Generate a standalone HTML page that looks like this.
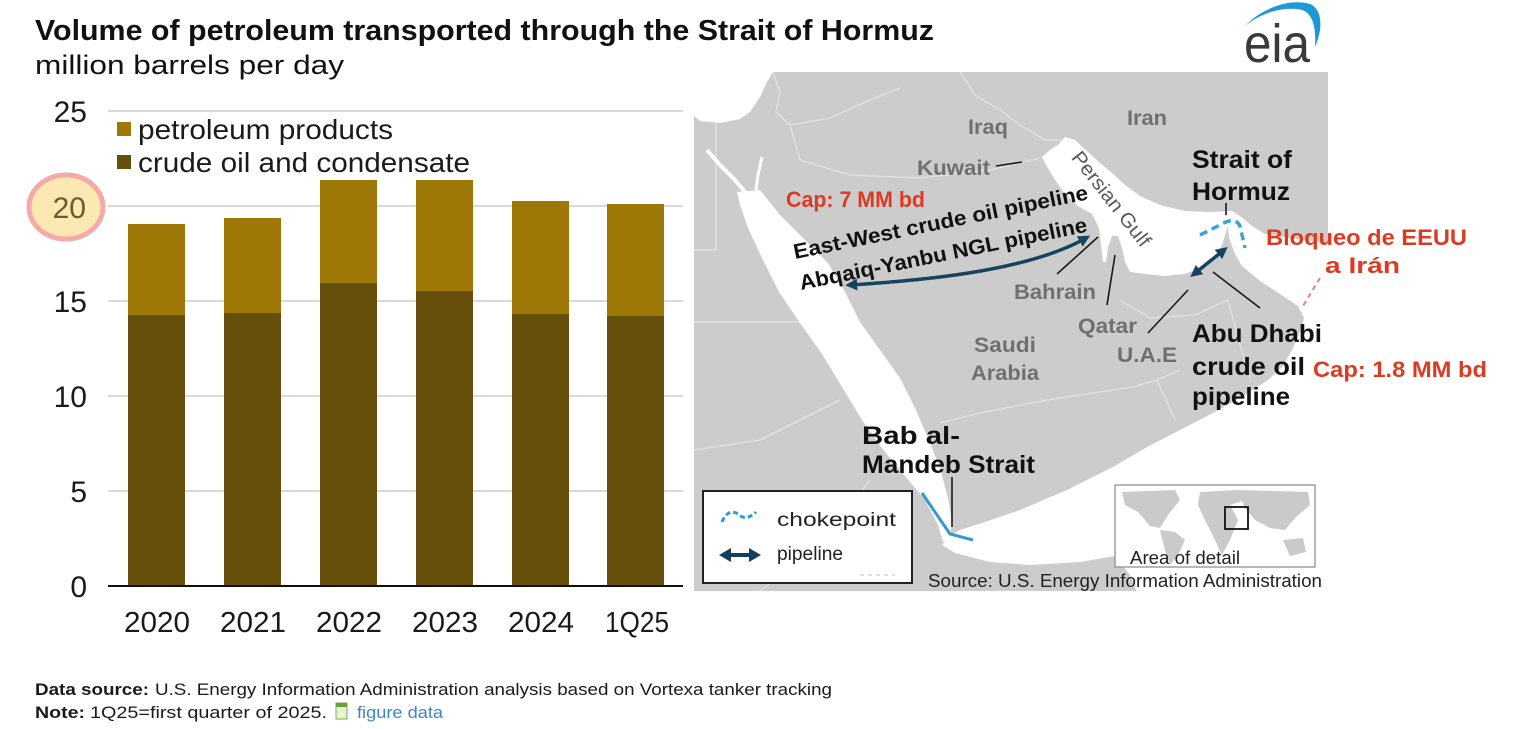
<!DOCTYPE html>
<html><head><meta charset="utf-8">
<style>
html,body{margin:0;padding:0;background:#fff;}
svg{display:block;}
text{font-family:"Liberation Sans",Arial,sans-serif;}
</style></head><body>
<svg width="1522" height="729" viewBox="0 0 1522 729" xmlns="http://www.w3.org/2000/svg">
<defs>
<marker id="ah" viewBox="0 0 10 10" refX="6" refY="5" markerWidth="3.4" markerHeight="3.4" orient="auto-start-reverse"><path d="M0,0 L10,5 L0,10 Z" fill="#17435f"/></marker>
</defs>
<rect width="1522" height="729" fill="#fff"/>

<!-- Title -->
<text x="35" y="40" font-size="29" font-weight="bold" fill="#111" textLength="899" lengthAdjust="spacingAndGlyphs">Volume of petroleum transported through the Strait of Hormuz</text>
<text x="35" y="74" font-size="27" fill="#111" textLength="309" lengthAdjust="spacingAndGlyphs">million barrels per day</text>

<!-- eia logo -->
<path d="M1245,26 C1262,8 1290,-2 1310,4 C1324,10 1322,32 1315,47 C1316,30 1314,14 1302,10 C1285,6 1262,12 1245,26 Z" fill="#1d9ad6"/>
<text x="1244" y="62" font-size="54" fill="#3a3a3a" textLength="66" lengthAdjust="spacingAndGlyphs">eia</text>

<!-- Chart gridlines -->
<g stroke="#dadada" stroke-width="2">
<line x1="108" y1="111" x2="683" y2="111"/>
<line x1="108" y1="206" x2="683" y2="206"/>
<line x1="108" y1="301" x2="683" y2="301"/>
<line x1="108" y1="396" x2="683" y2="396"/>
<line x1="108" y1="491" x2="683" y2="491"/>
</g>

<!-- Bars -->
<g>
<rect x="128" y="224" width="57" height="91" fill="#9d7806"/>
<rect x="128" y="315" width="57" height="271" fill="#664f0a"/>
<rect x="224" y="218" width="57" height="95" fill="#9d7806"/>
<rect x="224" y="313" width="57" height="273" fill="#664f0a"/>
<rect x="320" y="180" width="57" height="103" fill="#9d7806"/>
<rect x="320" y="283" width="57" height="303" fill="#664f0a"/>
<rect x="416" y="180" width="57" height="111" fill="#9d7806"/>
<rect x="416" y="291" width="57" height="295" fill="#664f0a"/>
<rect x="512" y="201" width="57" height="113" fill="#9d7806"/>
<rect x="512" y="314" width="57" height="272" fill="#664f0a"/>
<rect x="607" y="204" width="57" height="112" fill="#9d7806"/>
<rect x="607" y="316" width="57" height="270" fill="#664f0a"/>
</g>
<line x1="108" y1="586" x2="683" y2="586" stroke="#111" stroke-width="2"/>

<!-- Y labels -->
<ellipse cx="66" cy="207" rx="37" ry="32" fill="#fce8b3" stroke="#f4aaa6" stroke-width="5"/>
<g font-size="30" fill="#1a1a1a" text-anchor="end">
<text x="87" y="122">25</text>
<text x="86" y="218" fill="#6a5a2c">20</text>
<text x="87" y="312">15</text>
<text x="87" y="407">10</text>
<text x="87" y="502">5</text>
<text x="87" y="597">0</text>
</g>

<!-- X labels -->
<g font-size="29" fill="#1a1a1a" text-anchor="middle">
<text x="157" y="632" textLength="66" lengthAdjust="spacingAndGlyphs">2020</text>
<text x="253" y="632" textLength="66" lengthAdjust="spacingAndGlyphs">2021</text>
<text x="349" y="632" textLength="66" lengthAdjust="spacingAndGlyphs">2022</text>
<text x="445" y="632" textLength="66" lengthAdjust="spacingAndGlyphs">2023</text>
<text x="541" y="632" textLength="66" lengthAdjust="spacingAndGlyphs">2024</text>
<text x="637" y="632" textLength="64" lengthAdjust="spacingAndGlyphs">1Q25</text>
</g>

<!-- Legend -->
<rect x="117" y="122" width="14" height="14" fill="#9d7806"/>
<rect x="117" y="155" width="14" height="14" fill="#664f0a"/>
<text x="138" y="139" font-size="28" fill="#1a1a1a" textLength="255" lengthAdjust="spacingAndGlyphs">petroleum products</text>
<text x="138" y="172" font-size="28" fill="#1a1a1a" textLength="332" lengthAdjust="spacingAndGlyphs">crude oil and condensate</text>

<!-- MAP -->
<rect x="694" y="72" width="634" height="519" fill="#cccccc"/>
<!-- country borders -->
<g fill="none" stroke="#e2e2e2" stroke-width="1.3">
<polyline points="694,322 800,322"/>
<polyline points="716,123 716,250 694,250"/>
<polyline points="773,72 780,92 776,112 790,125 830,118 870,100 900,88"/>
<polyline points="790,125 800,160 850,175 920,178 990,170 1040,158"/>
<polyline points="960,72 975,95 1000,110 1020,125 1045,140 1062,140"/>
<polyline points="940,423 980,413 1047,400 1133,387 1157,380 1180,370"/>
<polyline points="1157,380 1175,420"/>
<polyline points="1120,300 1150,318 1195,315 1228,300 1240,345 1250,378"/>
<polyline points="840,400 800,420 760,440 694,450"/>
<polyline points="870,480 840,520 800,560 760,591"/>
</g>
<!-- seas -->
<g fill="#fff">
<polygon points="694,72 773,72 767,82 760,97 750,112 740,119 720,123 700,121 694,116"/>
<polygon points="737,192 760,190 780,215 805,240 828,263 845,292 860,322 880,350 900,378 915,408 928,438 940,468 948,498 952,522 950,537 943,542 938,525 925,500 905,476 885,452 862,420 842,387 822,354 800,323 779,292 762,258 748,228 740,205"/>
<polygon points="948,537 960,530 985,522 1020,510 1067,490 1113,467 1147,447 1180,430 1213,413 1245,395 1268,380 1283,366 1292,350 1300,332 1304,318 1298,306 1280,294 1260,281 1242,266 1234,252 1229,238 1228,226 1222,245 1215,258 1200,268 1185,274 1165,276 1145,274 1130,272 1125,262 1122,248 1118,236 1112,236 1108,248 1106,262 1103,262 1101,245 1099,228 1092,214 1078,206 1064,193 1055,180 1046,165 1042,157 1050,150 1058,145 1065,137 1075,140 1088,152 1100,163 1112,173 1125,185 1140,196 1160,205 1185,211 1210,212 1232,211 1240,216 1252,226 1265,234 1290,238 1328,243 1340,243 1340,600 1140,600 1130,575 1115,556 1080,562 1030,565 990,562 955,553 942,545"/>
</g>
<g fill="none" stroke="#fff">
<polyline points="707,150 720,165 735,180 745,192" stroke-width="4"/>
<polyline points="762,157 758,175 756,190" stroke-width="3"/>
</g>

<!-- map grey labels -->
<g font-size="21" font-weight="bold" fill="#707070">
<text x="968" y="134" textLength="40" lengthAdjust="spacingAndGlyphs">Iraq</text>
<text x="1127" y="125" textLength="40" lengthAdjust="spacingAndGlyphs">Iran</text>
<text x="917" y="175" textLength="73" lengthAdjust="spacingAndGlyphs">Kuwait</text>
<text x="1014" y="299" textLength="82" lengthAdjust="spacingAndGlyphs">Bahrain</text>
<text x="1078" y="333" textLength="59" lengthAdjust="spacingAndGlyphs">Qatar</text>
<text x="974" y="352" textLength="62" lengthAdjust="spacingAndGlyphs">Saudi</text>
<text x="971" y="380" textLength="68" lengthAdjust="spacingAndGlyphs">Arabia</text>
<text x="1117" y="362" textLength="60" lengthAdjust="spacingAndGlyphs">U.A.E</text>
</g>
<text transform="translate(1106,203) rotate(52)" font-size="20" fill="#5a5a5a" text-anchor="middle" textLength="115" lengthAdjust="spacingAndGlyphs">Persian Gulf</text>

<!-- pointer lines -->
<g stroke="#1a1a1a" stroke-width="1.6" fill="none">
<line x1="996" y1="166" x2="1022" y2="162"/>
<line x1="1057" y1="274" x2="1098" y2="237"/>
<line x1="1107" y1="305" x2="1115" y2="255"/>
<line x1="1148" y1="333" x2="1188" y2="290"/>
<line x1="1213" y1="272" x2="1260" y2="308"/>
<line x1="1226" y1="203" x2="1226" y2="215"/>
<line x1="952" y1="477" x2="952" y2="527"/>
</g>

<!-- pipelines -->
<path d="M850,285 C930,280 1030,270 1086,238" fill="none" stroke="#17435f" stroke-width="3.5" marker-start="url(#ah)" marker-end="url(#ah)"/>
<line x1="1194" y1="274" x2="1224" y2="250" stroke="#17435f" stroke-width="3.5" marker-start="url(#ah)" marker-end="url(#ah)"/>

<!-- chokepoints -->
<path d="M1200,235 L1220,225 Q1235,216 1240,226 L1245,248" fill="none" stroke="#3aa2d9" stroke-width="3.5" stroke-dasharray="8,5"/>
<polyline points="922,493 950,534 973,540" fill="none" stroke="#2f9bd5" stroke-width="3"/>
<line x1="1320" y1="278" x2="1303" y2="306" stroke="#f27a85" stroke-width="2" stroke-dasharray="5,4"/>

<!-- pipeline texts -->
<text transform="translate(795,259) rotate(-11.5)" font-size="21" font-weight="bold" fill="#111" textLength="300" lengthAdjust="spacingAndGlyphs">East-West crude oil pipeline</text>
<text transform="translate(801,290) rotate(-11.5)" font-size="21" font-weight="bold" fill="#111" textLength="293" lengthAdjust="spacingAndGlyphs">Abqaiq-Yanbu NGL pipeline</text>

<!-- black labels -->
<g font-size="25" font-weight="bold" fill="#111">
<text x="1192" y="168" textLength="100" lengthAdjust="spacingAndGlyphs">Strait of</text>
<text x="1192" y="200" textLength="98" lengthAdjust="spacingAndGlyphs">Hormuz</text>
<text x="1192" y="342" textLength="130" lengthAdjust="spacingAndGlyphs">Abu Dhabi</text>
<text x="1192" y="375" textLength="113" lengthAdjust="spacingAndGlyphs">crude oil</text>
<text x="1192" y="405" textLength="98" lengthAdjust="spacingAndGlyphs">pipeline</text>
<text x="862" y="444" textLength="98" lengthAdjust="spacingAndGlyphs">Bab al-</text>
<text x="862" y="473" textLength="173" lengthAdjust="spacingAndGlyphs">Mandeb Strait</text>
</g>

<!-- red labels -->
<g font-size="22" font-weight="bold" fill="#dd3a22">
<text x="786" y="207" textLength="139" lengthAdjust="spacingAndGlyphs">Cap: 7 MM bd</text>
<text x="1313" y="377" textLength="174" lengthAdjust="spacingAndGlyphs">Cap: 1.8 MM bd</text>
<text x="1266" y="245" textLength="201" lengthAdjust="spacingAndGlyphs">Bloqueo de EEUU</text>
<text x="1325" y="273" textLength="75" lengthAdjust="spacingAndGlyphs">a Irán</text>
</g>

<!-- map legend -->
<rect x="703" y="491" width="209" height="92" fill="#fff" stroke="#222" stroke-width="2"/>
<path d="M722,522 C726,512 732,510 738,514 C742,518 748,520 756,512" fill="none" stroke="#2e9bd6" stroke-width="3" stroke-dasharray="5,3"/>
<line x1="728" y1="555" x2="752" y2="555" stroke="#13405c" stroke-width="4"/>
<path d="M719,555 L731,548 L731,562 Z M761,555 L749,548 L749,562 Z" fill="#13405c"/>
<text x="777" y="526" font-size="19" fill="#222" textLength="119" lengthAdjust="spacingAndGlyphs">chokepoint</text>
<text x="777" y="560" font-size="19" fill="#222" textLength="66" lengthAdjust="spacingAndGlyphs">pipeline</text>
<line x1="860" y1="575" x2="895" y2="575" stroke="#bbb" stroke-width="1" stroke-dasharray="4,4"/>

<!-- inset -->
<rect x="1115" y="485" width="200" height="82" fill="#fff" stroke="#888" stroke-width="1.2"/>
<g fill="#cacaca">
<path d="M1122,492 L1175,490 L1180,500 L1168,515 L1160,528 L1150,526 L1138,512 L1125,505 Z"/>
<path d="M1160,530 L1175,532 L1185,540 L1178,555 L1170,565 L1165,550 Z"/>
<path d="M1200,492 L1240,490 L1245,500 L1230,505 L1238,520 L1230,540 L1222,555 L1215,540 L1205,520 L1198,505 Z"/>
<path d="M1238,490 L1308,492 L1310,505 L1295,518 L1285,530 L1270,528 L1255,520 L1245,508 Z"/>
<path d="M1283,540 L1303,538 L1306,552 L1290,556 Z"/>
</g>
<rect x="1225" y="507" width="23" height="22" fill="none" stroke="#111" stroke-width="1.8"/>
<text x="1130" y="564" font-size="18" fill="#222" textLength="110" lengthAdjust="spacingAndGlyphs">Area of detail</text>
<text x="928" y="587" font-size="18" fill="#222" textLength="394" lengthAdjust="spacingAndGlyphs">Source: U.S. Energy Information Administration</text>

<!-- Footer -->
<text x="35" y="695" font-size="17" font-weight="bold" fill="#1a1a1a" textLength="114" lengthAdjust="spacingAndGlyphs">Data source:</text>
<text x="155" y="695" font-size="17" fill="#1a1a1a" textLength="677" lengthAdjust="spacingAndGlyphs">U.S. Energy Information Administration analysis based on Vortexa tanker tracking</text>
<text x="35" y="718" font-size="17" font-weight="bold" fill="#1a1a1a" textLength="50" lengthAdjust="spacingAndGlyphs">Note:</text>
<text x="90" y="718" font-size="17" fill="#1a1a1a" textLength="237" lengthAdjust="spacingAndGlyphs">1Q25=first quarter of 2025.</text>
<rect x="336" y="703" width="11" height="16" fill="#e8f1d8" stroke="#7fae4a" stroke-width="1"/>
<rect x="336" y="703" width="11" height="4" fill="#6aa23a"/>
<text x="357" y="718" font-size="17" fill="#3b88bc" textLength="86" lengthAdjust="spacingAndGlyphs">figure data</text>
</svg>
</body></html>
